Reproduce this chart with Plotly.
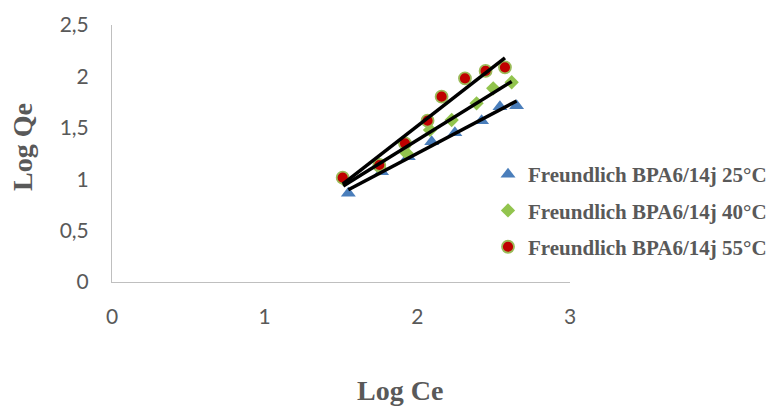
import numpy as np
import plotly.graph_objects as go

# Freundlich isotherm data (log Ce, log Qe) at three temperatures
log_ce_25 = [1.548, 1.766, 1.941, 2.094, 2.246, 2.421, 2.541, 2.650]
log_qe_25 = [0.863, 1.073, 1.219, 1.365, 1.452, 1.569, 1.705, 1.715]

log_ce_40 = [1.515, 1.755, 1.930, 2.083, 2.225, 2.388, 2.497, 2.618]
log_qe_40 = [1.000, 1.106, 1.252, 1.479, 1.576, 1.738, 1.884, 1.943]

log_ce_55 = [1.511, 1.751, 1.919, 2.067, 2.159, 2.312, 2.447, 2.574]
log_qe_55 = [1.015, 1.138, 1.349, 1.569, 1.803, 1.981, 2.053, 2.088]

series_names = [
    "Freundlich BPA6/14j 25°C",
    "Freundlich BPA6/14j 40°C",
    "Freundlich BPA6/14j 55°C",
]

x_ticks = [0, 1, 2, 3]
y_ticks = [0, 0.5, 1, 1.5, 2, 2.5]

GREY = "#595959"
AXIS_GREY = "#BFBFBF"

series = [
    (log_ce_25, log_qe_25, dict(symbol="triangle-up", size=13, color="#4A7EBB",
                                line=dict(width=0))),
    (log_ce_40, log_qe_40, dict(symbol="diamond", size=11, color="#92C44E",
                                line=dict(width=0))),
    (log_ce_55, log_qe_55, dict(symbol="circle", size=12, color="#C00000",
                                line=dict(width=1.8, color="#9BBB59"))),
]

fig = go.Figure()

for i, (xs, ys, marker) in enumerate(series):
    fig.add_trace(go.Scatter(
        x=xs, y=ys, mode="markers", name=f"<b>{series_names[i]}</b>",
        marker=marker, legendgroup=f"g{i}",
    ))

# Linear trendlines (least-squares fit over each series' range)
for i, (xs, ys, _) in enumerate(series):
    slope, intercept = np.polyfit(xs, ys, 1)
    x_fit = np.array([min(xs), max(xs)])
    fig.add_trace(go.Scatter(
        x=x_fit, y=slope * x_fit + intercept, mode="lines",
        line=dict(color="black", width=3.5), showlegend=False,
        hoverinfo="skip",
    ))

fig.update_layout(
    width=776, height=407,
    margin=dict(l=112, r=206, t=25, b=125, autoexpand=False),
    paper_bgcolor="white", plot_bgcolor="white",
    separators=", ",
    showlegend=True,
    legend=dict(
        x=(488 - 112) / 458, y=(282 - 154) / 257, xanchor="left", yanchor="top",
        font=dict(family="Liberation Serif", size=21, color=GREY),
        traceorder="grouped", tracegroupgap=6,
        itemwidth=30, bgcolor="rgba(0,0,0,0)",
    ),
    xaxis=dict(
        range=[0, 3], tickvals=x_ticks, showgrid=False, zeroline=False,
        showline=True, linecolor=AXIS_GREY, linewidth=1,
        ticks="outside", ticklen=16, tickcolor="rgba(0,0,0,0)",
        tickfont=dict(family="Lato", size=21, color=GREY),
    ),
    yaxis=dict(
        range=[0, 2.5], tickvals=y_ticks, showgrid=False, zeroline=False,
        showline=True, linecolor=AXIS_GREY, linewidth=1,
        ticks="outside", ticklen=18, tickcolor="rgba(0,0,0,0)",
        tickfont=dict(family="Lato", size=21, color=GREY),
        tickformat=".1~f",
    ),
    annotations=[
        dict(text="<b>Log Ce</b>", xref="paper", yref="paper",
             x=(400 - 112) / 458, y=-(390 - 282) / 257,
             xanchor="center", yanchor="middle", showarrow=False,
             font=dict(family="Liberation Serif", size=28, color=GREY)),
        dict(text="<b>Log Qe</b>", xref="paper", yref="paper",
             x=-(112 - 22) / 458, y=(282 - 147) / 257,
             xanchor="center", yanchor="middle", showarrow=False,
             textangle=-90,
             font=dict(family="Liberation Serif", size=28, color=GREY)),
    ],
)

fig.write_html("out.html")
